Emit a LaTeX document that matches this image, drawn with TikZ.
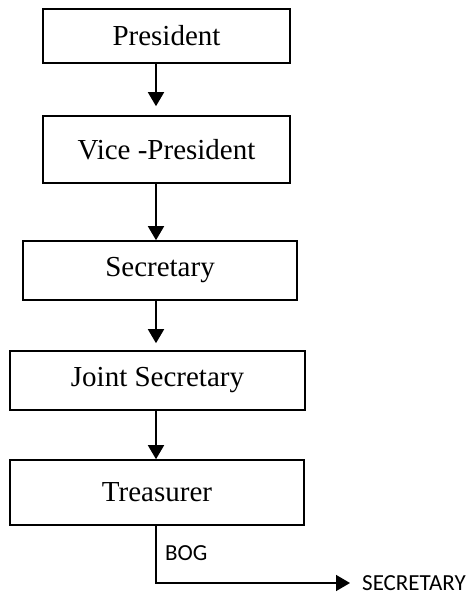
\documentclass[tikz,border=0pt]{standalone}
\usepackage{fontspec}
\setmainfont{Liberation Serif}
\newfontfamily\calibri{Carlito}
\usetikzlibrary{arrows.meta,calc}

\begin{document}
\begin{tikzpicture}[x=1pt,y=-1pt,
    post/.style={draw,line width=1.6pt,inner sep=0pt,
        font={\fontsize{29}{34}\selectfont}},
    tag/.style={inner sep=0pt,font={\calibri\fontsize{23}{27}\selectfont}},
    link/.style={line width=1.6pt,-{Triangle[width=16pt,length=14pt]}},
    ]
    \useasboundingbox (0,0) rectangle (476,592);

    % Office bearers
    \node[post,minimum width=247pt,minimum height=54pt] (president) at (166.5,36) {President};
    \node[post,minimum width=247pt,minimum height=67pt] (vice) at (166.5,149.5) {Vice -President};
    \node[post,minimum width=274pt,minimum height=59pt] (secretary) at (160,270.5) {Secretary};
    \node[post,minimum width=295pt,minimum height=59pt] (joint) at (157.5,380.5) {Joint Secretary};
    \node[post,minimum width=294pt,minimum height=65pt] (treasurer) at (157,492.5) {Treasurer};

    % Vertical line of arrows
    \coordinate (spine) at (156,0);
    \draw[link,shorten >=9pt] (president.south -| spine) -- (vice.north -| spine);
    \draw[link] (vice.south -| spine) -- (secretary.north -| spine);
    \draw[link,shorten >=7pt] (secretary.south -| spine) -- (joint.north -| spine);
    \draw[link] (joint.south -| spine) -- (treasurer.north -| spine);

    % BOG branch
    \node[tag,anchor=west] (bog) at (165,553) {BOG};
    \node[tag,anchor=west] (bogsec) at (362,583) {SECRETARY};
    \draw[link,shorten >=12pt] (treasurer.south -| spine) |- (bogsec.west);

\end{tikzpicture}
\end{document}
